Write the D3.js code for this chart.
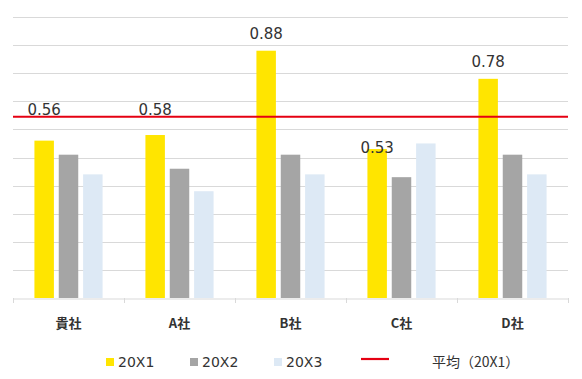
<!DOCTYPE html>
<html>
<head>
<meta charset="utf-8">
<script src="https://cdn.jsdelivr.net/npm/d3@7"></script>
<style>
  body { margin: 0; background: #fff; }
  svg { display: block; }
</style>
</head>
<body>
<div id="viz"></div>
<script>
var width = 582,
    height = 379,
    margin = {top: 17, right: 14, bottom: 81, left: 13};

// data
var companies = ["貴社", "A社", "B社", "C社", "D社"];
var seriesNames = ["20X1", "20X2", "20X3"];
var v20X1 = [0.56, 0.58, 0.88, 0.53, 0.78];
var v20X2 = [0.51, 0.46, 0.51, 0.43, 0.51];
var v20X3 = [0.44, 0.38, 0.44, 0.55, 0.44];
var average20X1 = 0.645;
var avgLabel = "平均（20X1）";
var yTicks = [0, 0.1, 0.2, 0.3, 0.4, 0.5, 0.6, 0.7, 0.8, 0.9, 1.0];

var colors = ["#ffe500", "#a5a5a5", "#dde9f5"];
var values = [v20X1, v20X2, v20X3];

var data = companies.map((c, i) => ({
  company: c,
  vals: seriesNames.map((s, j) => ({series: s, value: values[j][i], idx: j}))
}));

var svg = d3.select("#viz").append("svg")
  .attr("width", width)
  .attr("height", height);

var x0 = d3.scaleBand()
  .domain(companies)
  .range([margin.left, width - margin.right])
  .paddingInner(0).paddingOuter(0);

var x1 = d3.scaleBand()
  .domain(seriesNames)
  .range([0, x0.bandwidth()])
  .paddingInner(0.2)
  .paddingOuter(0.88);

var y = d3.scaleLinear()
  .domain([0, 1])
  .range([height - margin.bottom, margin.top]);

// gridlines
svg.append("g")
  .selectAll("line")
  .data(yTicks.slice(1))
  .join("line")
  .attr("x1", margin.left)
  .attr("x2", width - margin.right)
  .attr("y1", d => Math.round(y(d)) + 0.5)
  .attr("y2", d => Math.round(y(d)) + 0.5)
  .attr("stroke", "#d9d9d9")
  .attr("stroke-width", 1);

// bars
var groups = svg.append("g")
  .selectAll("g")
  .data(data)
  .join("g")
  .attr("transform", d => `translate(${x0(d.company)},0)`);

groups.selectAll("rect")
  .data(d => d.vals)
  .join("rect")
  .attr("x", d => x1(d.series))
  .attr("width", x1.bandwidth())
  .attr("y", d => y(d.value))
  .attr("height", d => y(0) - y(d.value))
  .attr("fill", d => colors[d.idx]);

// x axis
var xAxis = svg.append("g")
  .attr("transform", `translate(0,${Math.round(y(0)) + 0.5})`)
  .call(d3.axisBottom(x0).tickSize(0).tickPadding(20))
  .call(g => g.select(".domain").attr("stroke", "#d9d9d9"));

xAxis.selectAll("text")
  .attr("font-family", "'Noto Sans CJK JP', sans-serif")
  .attr("font-size", 13)
  .attr("font-weight", "bold")
  .attr("fill", "#333");

// boundary ticks
svg.append("g")
  .selectAll("line")
  .data(companies.map(c => x0(c)).concat([width - margin.right]))
  .join("line")
  .attr("x1", d => Math.round(d) + 0.5)
  .attr("x2", d => Math.round(d) + 0.5)
  .attr("y1", y(0))
  .attr("y2", y(0) + 5)
  .attr("stroke", "#d9d9d9");

// average line
var avgY = y(average20X1);
svg.append("line")
  .attr("x1", margin.left)
  .attr("x2", width - margin.right)
  .attr("y1", avgY)
  .attr("y2", avgY)
  .attr("stroke", "#e50012")
  .attr("stroke-width", 2.2);

// value labels for 20X1 (placed like the original: some above avg line, C on the bar)
var labelPlace = {"貴社": "avg", "A社": "avg", "B社": "top", "C社": "on", "D社": "top"};
svg.append("g")
  .selectAll("text")
  .data(data)
  .join("text")
  .attr("x", d => x0(d.company) + x1("20X1") + x1.bandwidth() / 2)
  .attr("y", d => {
    var top = y(d.vals[0].value);
    var p = labelPlace[d.company];
    if (p === "avg") return avgY - 2;
    if (p === "on") return top + 4;
    return top - 12;
  })
  .attr("text-anchor", "middle")
  .attr("font-family", "'DejaVu Sans', sans-serif")
  .attr("font-size", 15)
  .attr("fill", "#333")
  .text(d => d3.format(".2f")(d.vals[0].value));

// legend
var legend = svg.append("g").attr("transform", "translate(0,362)");
var legendX = [106, 190, 274];
seriesNames.forEach((s, i) => {
  legend.append("rect")
    .attr("x", legendX[i])
    .attr("y", -4)
    .attr("width", 8)
    .attr("height", 8)
    .attr("fill", colors[i]);
  legend.append("text")
    .attr("x", legendX[i] + 12)
    .attr("y", 5)
    .attr("font-family", "'DejaVu Sans', sans-serif")
    .attr("font-size", 14)
    .attr("fill", "#333")
    .text(s);
});
legend.append("line")
  .attr("x1", 361).attr("x2", 389)
  .attr("y1", -3).attr("y2", -3)
  .attr("stroke", "#e50012")
  .attr("stroke-width", 2.2);
legend.append("text")
  .attr("x", 432)
  .attr("y", 5)
  .attr("font-family", "'Noto Sans CJK JP', sans-serif")
  .attr("font-size", 14)
  .attr("fill", "#333")
  .text(avgLabel);
</script>
</body>
</html>
